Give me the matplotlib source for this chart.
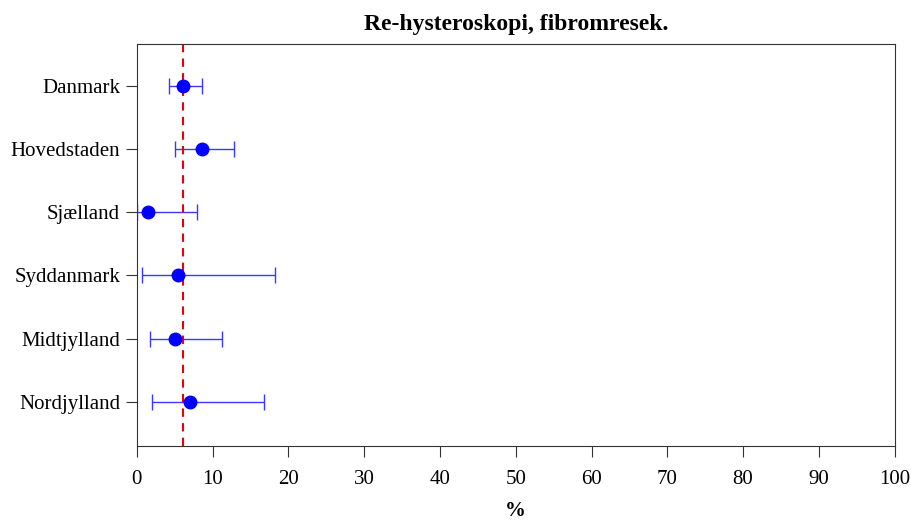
import matplotlib
matplotlib.use("Agg")
import matplotlib.pyplot as plt

regions = ["Danmark", "Hovedstaden", "Sjælland", "Syddanmark", "Midtjylland", "Nordjylland"]
estimate = [6.1, 8.6, 1.5, 5.4, 5.1, 7.0]
lower = [4.3, 5.1, 0.0, 0.7, 1.7, 2.0]
upper = [8.6, 12.8, 8.0, 18.3, 11.3, 16.8]
reference = 6.1
xticks = [0, 10, 20, 30, 40, 50, 60, 70, 80, 90, 100]

plt.rcParams["font.family"] = ["Liberation Serif", "DejaVu Serif"]

fig = plt.figure(figsize=(9.12, 5.23), dpi=100)
ax = fig.add_axes([0.150, 0.147, 0.831, 0.769])

n = len(regions)
ypos = [n - i for i in range(n)]

for y, est, lo, hi in zip(ypos, estimate, lower, upper):
    ax.errorbar(est, y, xerr=[[est - lo], [hi - est]], fmt="none",
                ecolor="#3a3aff", elinewidth=1.0, capsize=6, capthick=1.0)
    ax.plot(est, y, "o", color="#0000ff", markersize=9, zorder=3)

ax.axvline(reference, color="#e8000b", linestyle=(0, (4, 3)), linewidth=1.5, zorder=2)

ax.set_xlim(0, 100)
ax.set_ylim(0.3, 6.66)
ax.set_xticks(xticks)
ax.set_xticklabels([str(t) for t in xticks], fontsize=15)
ax.set_yticks(ypos)
ax.set_yticklabels(regions, fontsize=15)
ax.tick_params(axis="both", direction="out", length=8, width=0.8, color="#333333")
ax.tick_params(axis="x", pad=9)
ax.tick_params(axis="y", pad=4)
for s in ax.spines.values():
    s.set_linewidth(0.8)
    s.set_color("#333333")

ax.set_title("Re-hysteroskopi, fibromresek.", fontsize=17, fontweight="bold", pad=10)
ax.set_xlabel("%", fontsize=15, fontweight="bold", labelpad=9)

fig.savefig("out.png", dpi=100)
